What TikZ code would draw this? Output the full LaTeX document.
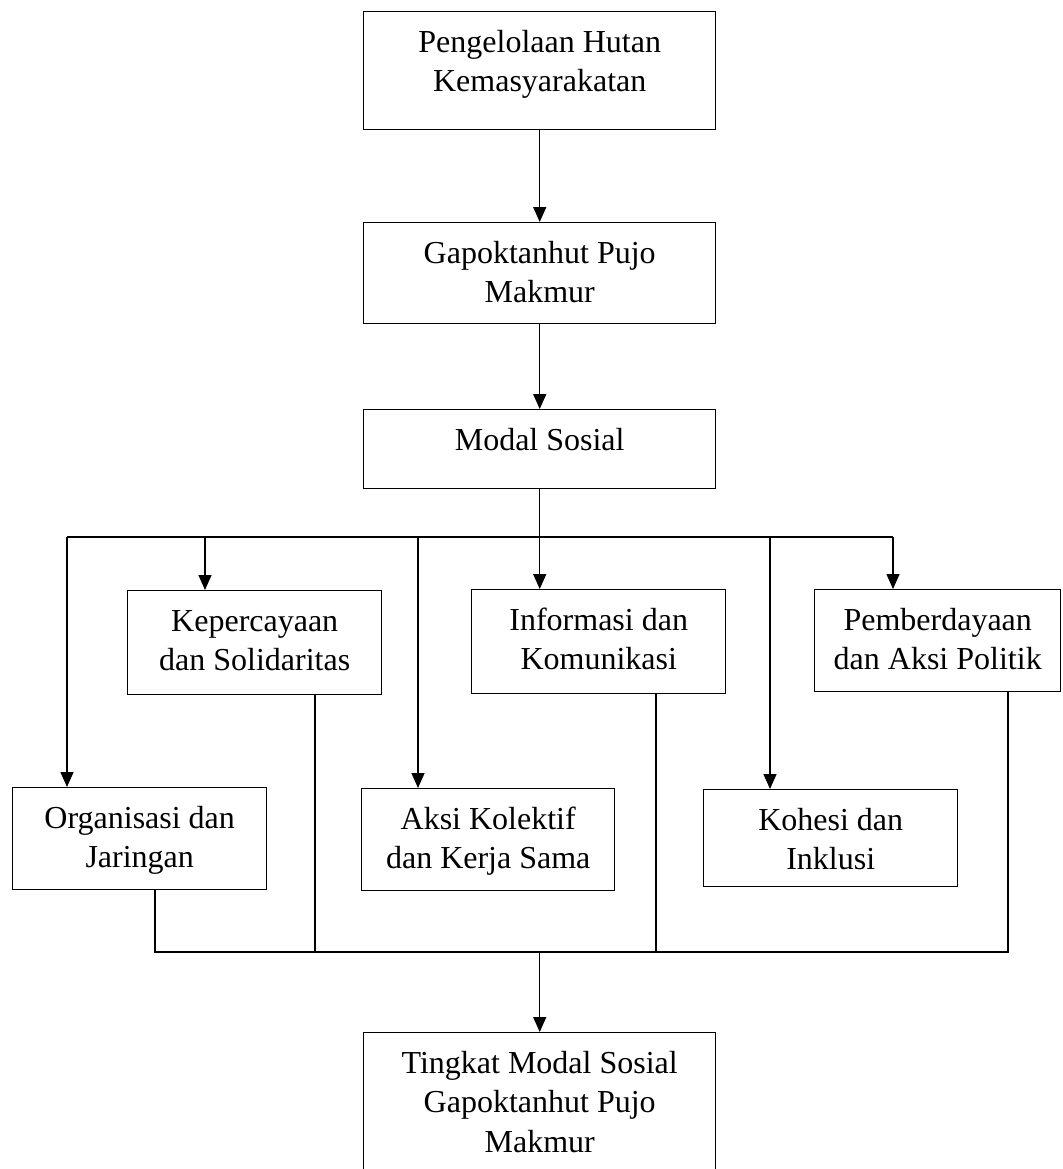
\documentclass[tikz,border=0pt]{standalone}
\usepackage{fontspec}
\setmainfont{Liberation Serif}
\usetikzlibrary{arrows.meta}

% isi kotak: lebar, tinggi, teks (rata atas)
\newcommand{\isikotak}[3]{\parbox[c][#2pt][t]{#1pt}{\centering\rule{0pt}{40.5pt}#3}}

\begin{document}
\begin{tikzpicture}[x=1pt,y=-1pt,
    kotak/.style={draw,line width=1.45pt,inner sep=0pt,anchor=north west,
      font=\fontsize{32pt}{39.5pt}\selectfont},
    garis/.style={line width=1.45pt},
    panah/.style={garis,-{Triangle[length=15pt,width=13pt]}}]
  \useasboundingbox (0,0) rectangle (1062,1169);
  \clip (0,0) rectangle (1062,1169);

  \node[kotak] (pengelolaan) at (363,11) {\isikotak{352}{118}{Pengelolaan Hutan\\Kemasyarakatan}};
  \node[kotak] (gapoktanhut) at (363,222) {\isikotak{352}{101}{Gapoktanhut Pujo\\Makmur}};
  \node[kotak] (modal) at (363,409) {\isikotak{352}{79}{Modal Sosial}};

  \node[kotak] (kepercayaan) at (127,590) {\isikotak{254}{104}{Kepercayaan\\dan Solidaritas}};
  \node[kotak] (informasi) at (471,589) {\isikotak{254}{104}{Informasi dan\\Komunikasi}};
  \node[kotak] (pemberdayaan) at (814,589) {\isikotak{246}{102}{Pemberdayaan\\dan Aksi Politik}};

  \node[kotak] (organisasi) at (12,787) {\isikotak{254}{102}{Organisasi dan\\Jaringan}};
  \node[kotak] (aksi) at (361,788) {\isikotak{253}{102}{Aksi Kolektif\\dan Kerja Sama}};
  \node[kotak] (kohesi) at (703,789) {\isikotak{254}{97}{Kohesi dan\\Inklusi}};

  \node[kotak] (tingkat) at (363,1032) {\isikotak{352}{200}{Tingkat Modal Sosial\\Gapoktanhut Pujo\\Makmur}};

  % alur atas
  \draw[panah] (pengelolaan) -- (gapoktanhut);
  \draw[panah] (gapoktanhut) -- (modal);
  \draw[panah] (modal.south) -- (modal.south |- informasi.north);

  % cabang ke indikator
  \coordinate (atas1) at (67,537);
  \coordinate (atas2) at (205,537);
  \coordinate (atas3) at (418,537);
  \coordinate (atas4) at (770,537);
  \coordinate (atas5) at (893,537);
  \draw[garis] (atas1) -- (atas5);
  \draw[panah] (atas1) -- (atas1 |- organisasi.north);
  \draw[panah] (atas2) -- (atas2 |- kepercayaan.north);
  \draw[panah] (atas3) -- (atas3 |- aksi.north);
  \draw[panah] (atas4) -- (atas4 |- kohesi.north);
  \draw[panah] (atas5) -- (atas5 |- pemberdayaan.north);

  % gabungan ke tingkat modal sosial
  \coordinate (bawah1) at (155,952);
  \coordinate (bawah2) at (315,952);
  \coordinate (bawah3) at (656,952);
  \coordinate (bawah4) at (1008,952);
  \draw[garis] (bawah1 |- organisasi.south) -- (bawah1) -- (bawah4) -- (bawah4 |- pemberdayaan.south);
  \draw[garis] (bawah2 |- kepercayaan.south) -- (bawah2);
  \draw[garis] (bawah3 |- informasi.south) -- (bawah3);
  \draw[panah] (tingkat.north |- bawah1) -- (tingkat.north);
\end{tikzpicture}
\end{document}
